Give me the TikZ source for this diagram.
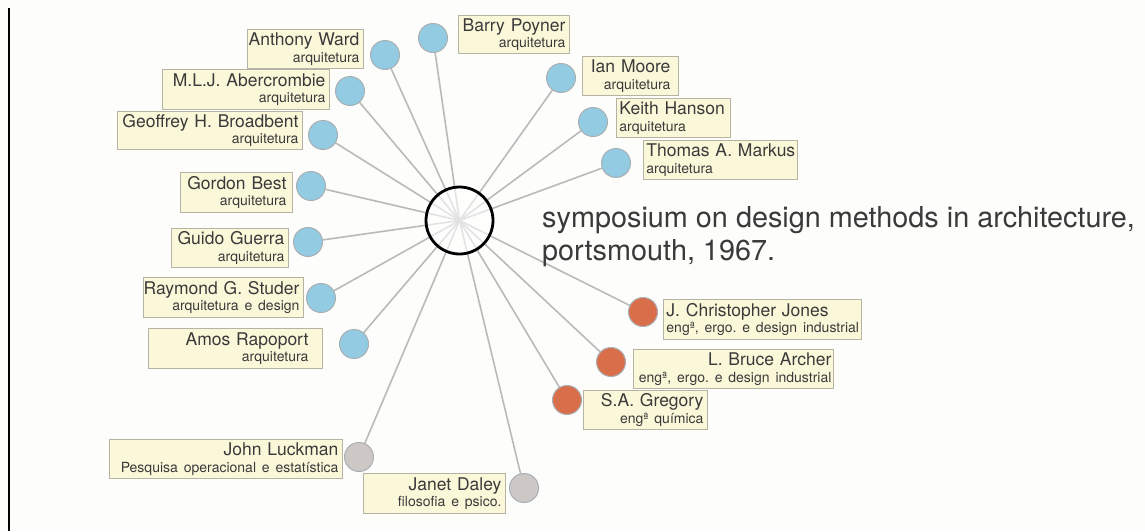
\documentclass[tikz,border=0pt]{standalone}
\usepackage{fontspec}
\setmainfont{TeX Gyre Heros}
\usetikzlibrary{backgrounds}
\frenchspacing

\definecolor{arqblue}{HTML}{93CBE2}
\definecolor{engorange}{HTML}{D96E4A}
\definecolor{othgray}{HTML}{CDC8C6}
\definecolor{ringgray}{HTML}{A9AFB3}
\definecolor{boxfill}{HTML}{FBF8DA}
\definecolor{boxedge}{HTML}{B5B3A3}
\definecolor{spokegray}{HTML}{BABABA}
\definecolor{ink}{HTML}{3A3A3A}
\definecolor{paper}{HTML}{FDFDFB}

% second, smaller line of a tag (discipline)
\newcommand\roleline[1]{{\fontsize{14}{16.5}\selectfont #1}}
% two-line tag text, right or left aligned, never broken
\newcommand\tagR[2]{\makebox[\linewidth][r]{#1}\\\makebox[\linewidth][r]{\roleline{#2}}}
\newcommand\tagL[2]{\makebox[\linewidth][l]{#1}\\\makebox[\linewidth][l]{\roleline{#2}}}

\begin{document}
\begin{tikzpicture}[x=1pt, y=-1pt,
  hub/.style={circle, draw=black, line width=2.8, minimum size=67, inner sep=0,
              fill=white, fill opacity=0.6},
  member/.style={circle, draw=ringgray, line width=1, minimum size=29, inner sep=0},
  arq/.style={member, fill=arqblue},
  eng/.style={member, fill=engorange},
  oth/.style={member, fill=othgray},
  tag/.style={draw=boxedge, fill=boxfill, line width=0.9, inner xsep=0, inner ysep=0,
              anchor=north west, text=ink, font=\fontsize{17.5}{16.5}\selectfont},
  spoke/.style={draw=spokegray, line width=1.6},
  heading/.style={anchor=base west, text=ink, inner sep=0, font=\fontsize{28.8}{33}\selectfont},
]
\useasboundingbox (0,0) rectangle (1145,531);

% hub
\node[hub] (hub) at (459.5,220.5) {};

% architects
\node[arq] (cWard)   at (385,55)  {};
\node[arq] (cAber)   at (350,91)  {};
\node[arq] (cBroad)  at (323,135) {};
\node[arq] (cPoyner) at (433,38)  {};
\node[arq] (cMoore)  at (561,78)  {};
\node[arq] (cHanson) at (593,122) {};
\node[arq] (cMarkus) at (616,163) {};
\node[arq] (cBest)   at (311,186) {};
\node[arq] (cGuerra) at (308,242) {};
\node[arq] (cStuder) at (321,298) {};
\node[arq] (cRapo)   at (354,344) {};
% engineers
\node[eng] (cJones)   at (643,312) {};
\node[eng] (cArcher)  at (611,362) {};
\node[eng] (cGregory) at (567,400) {};
% others
\node[oth] (cLuckman) at (359,457) {};
\node[oth] (cDaley)   at (524,488) {};

% tags
\node[tag, minimum width=116, minimum height=39, text width=108] (tWard) at (247,29)
  {\tagR{Anthony Ward}{arquitetura}};
\node[tag, minimum width=167, minimum height=40, text width=159] (tAber) at (162,69)
  {\tagR{M.L.J. Abercrombie}{arquitetura}};
\node[tag, minimum width=185, minimum height=38, text width=177] (tBroad) at (117,111)
  {\tagR{Geoffrey H. Broadbent}{arquitetura}};
\node[tag, minimum width=111, minimum height=38, text width=103] (tPoyner) at (458,15)
  {\tagR{Barry Poyner}{arquitetura}};
\node[tag, minimum width=96, minimum height=39, text width=80] (tMoore) at (582,56)
  {\tagR{Ian Moore}{arquitetura}};
\node[tag, minimum width=114, minimum height=39, text width=108] (tHanson) at (616,98)
  {\tagL{Keith Hanson}{arquitetura}};
\node[tag, minimum width=154, minimum height=39, text width=148] (tMarkus) at (643,140)
  {\tagL{Thomas A. Markus}{arquitetura}};
\node[tag, minimum width=112, minimum height=40, text width=100] (tBest) at (180,172)
  {\tagR{Gordon Best}{arquitetura}};
\node[tag, minimum width=117, minimum height=39, text width=109] (tGuerra) at (171,228)
  {\tagR{Guido Guerra}{arquitetura}};
\node[tag, minimum width=160, minimum height=40, text width=152] (tStuder) at (143,277)
  {\tagR{Raymond G. Studer}{arquitetura e design}};
\node[tag, minimum width=174, minimum height=40, text width=146] (tRapo) at (148,328)
  {\tagR{Amos Rapoport}{arquitetura}};
\node[tag, minimum width=198, minimum height=40, text width=192] (tJones) at (663,299)
  {\tagL{J. Christopher Jones}{engª, ergo. e design industrial}};
\node[tag, minimum width=200, minimum height=39, text width=196] (tArcher) at (633,349)
  {\tagR{L. Bruce Archer}{engª, ergo. e design industrial}};
\node[tag, minimum width=124, minimum height=39, text width=116] (tGregory) at (583,390)
  {\tagR{S.A. Gregory}{engª química}};
\node[tag, minimum width=233, minimum height=39, text width=225] (tLuckman) at (109,439)
  {\tagR{John Luckman}{Pesquisa operacional e estatística}};
\node[tag, minimum width=142, minimum height=40, text width=134] (tDaley) at (363,473)
  {\tagR{Janet Daley}{filosofia e psico.}};

% heading
\node[heading] (title1) at (542,227) {symposium on design methods in architecture,};
\node[heading] (title2) at (542,260) {portsmouth, 1967.};

\begin{pgfonlayer}{background}
  \fill[paper] (0,0) rectangle (1145,531);
  \draw[line width=1.8] (9,8) -- (9,531);
  \foreach \c in {cWard,cAber,cBroad,cPoyner,cMoore,cHanson,cMarkus,cBest,cGuerra,
                  cStuder,cRapo,cJones,cArcher,cGregory,cLuckman,cDaley}
    \draw[spoke] (hub.center) -- (\c.center);
\end{pgfonlayer}
\end{tikzpicture}
\end{document}
